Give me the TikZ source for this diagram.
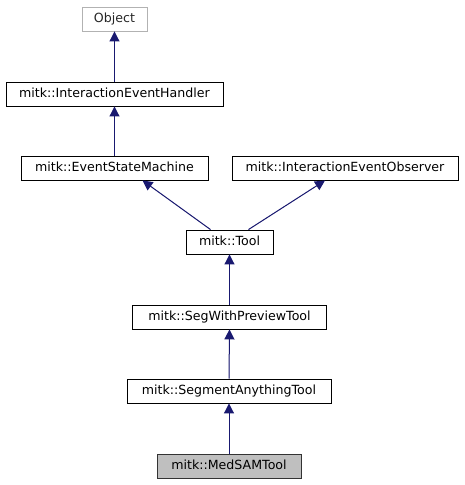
\documentclass[tikz,border=0pt]{standalone}
\usepackage{fontspec}
\setmainfont{DejaVu Sans}
\usetikzlibrary{arrows.meta}
\definecolor{edgeblue}{HTML}{191970}
\definecolor{nodegray}{HTML}{BFBFBF}
\begin{document}
\begin{tikzpicture}[x=1pt,y=-1pt,
  cls/.style={draw=black,line width=0.9pt,fill=white,inner sep=0pt,minimum height=24pt,font=\fontsize{12.6}{14}\selectfont,text height=9.2pt,text depth=2.3pt},
  ext/.style={cls,draw=gray!60,text=gray!30!black},
  cur/.style={cls,draw=black!80,fill=nodegray},
  inh/.style={{Triangle[length=10pt,width=10pt]}-,draw=edgeblue,fill=edgeblue,line width=1pt}]
\useasboundingbox (0,0) rectangle (464,485);
\node[ext,minimum width=65pt] (obj) at (114.5,19) {Object};
\node[cls,minimum width=217pt] (ieh) at (114.5,94) {mitk::InteractionEventHandler};
\node[cls,minimum width=187pt] (esm) at (114.5,168) {mitk::EventStateMachine};
\node[cls,minimum width=226pt] (ieo) at (345,168) {mitk::InteractionEventObserver};
\node[cls,minimum width=87pt] (tool) at (229.5,242) {mitk::Tool};
\node[cls,minimum width=194pt] (swpt) at (229.5,317) {mitk::SegWithPreviewTool};
\node[cls,minimum width=204pt] (sat) at (229,391) {mitk::SegmentAnythingTool};
\node[cur,minimum width=144pt] (med) at (229,466) {mitk::MedSAMTool};
\draw[inh] (obj.south) -- (ieh.north);
\draw[inh] (ieh.south) -- (esm.north);
\draw[inh] ([xshift=28pt]esm.south) -- ([xshift=-19pt]tool.north);
\draw[inh] ([xshift=-20pt]ieo.south) -- ([xshift=19pt]tool.north);
\draw[inh] (tool.south) -- (swpt.north);
\draw[inh] (swpt.south) -- (sat.north);
\draw[inh] (sat.south) -- (med.north);
\end{tikzpicture}
\end{document}
